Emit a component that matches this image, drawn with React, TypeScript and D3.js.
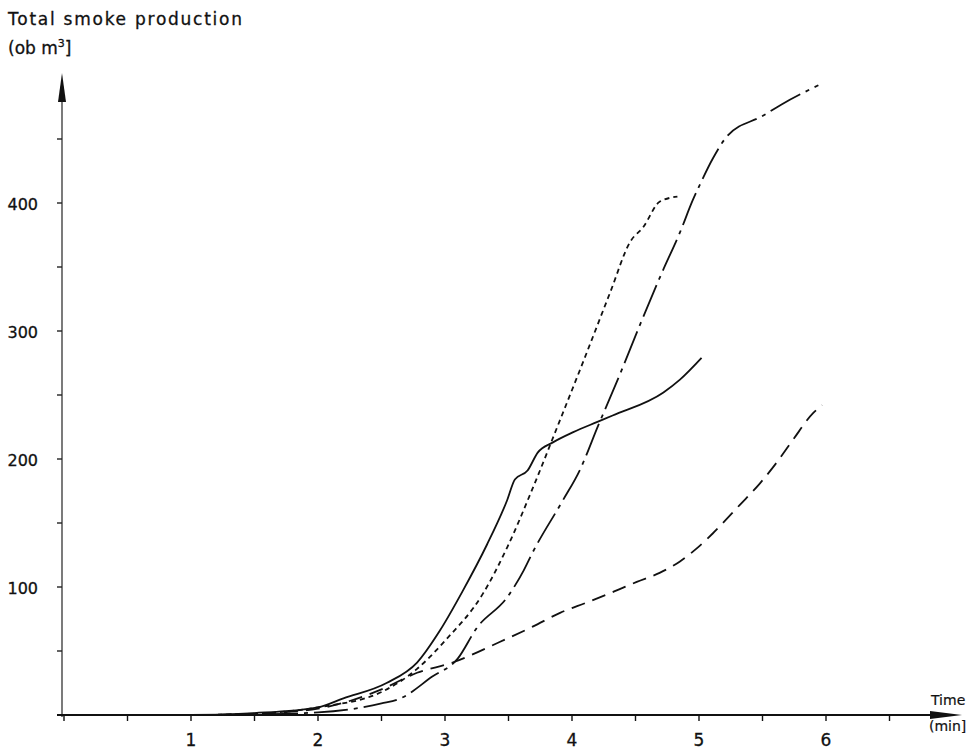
import React from "react";
import * as d3 from "d3";

// ---- data ----
const solidT = [0, 1, 1.5, 2.0, 2.2, 2.54, 2.78, 2.96, 3.14, 3.33, 3.49, 3.55, 3.65, 3.73, 3.85, 4.01, 4.2, 4.32, 4.72, 4.85, 5.02];
const solidV = [0, 0, 1.5, 6, 13, 25, 41, 66, 97, 133, 168, 184, 191, 205, 213, 221, 229, 234, 252, 262, 279];

const dottedT = [0, 1, 1.5, 2.0, 2.5, 2.78, 3.0, 3.3, 3.49, 3.69, 3.9, 4.1, 4.3, 4.46, 4.56, 4.69, 4.83];
const dottedV = [0, 0, 1, 6, 18, 36, 58, 95, 131, 177, 229, 279, 330, 370, 381, 401, 405];

const dashDotT = [0, 1, 1.5, 2.0, 2.5, 2.65, 2.9, 3.1, 3.25, 3.49, 3.62, 3.69, 3.93, 4.06, 4.21, 4.36, 4.54, 4.71, 4.85, 4.95, 5.01, 5.11, 5.22, 5.5, 5.65, 5.94];
const dashDotV = [0, 0, 0.5, 2, 9, 13, 30, 44, 68, 92, 113, 127, 168, 191, 227, 262, 306, 346, 377, 402, 415, 435, 452, 468, 477, 492];

const dashedT = [0, 1, 1.5, 2.0, 2.5, 2.78, 3.06, 3.43, 3.69, 3.91, 4.12, 4.32, 4.51, 4.69, 4.85, 4.98, 5.11, 5.32, 5.48, 5.61, 5.74, 5.9, 5.97];
const dashedV = [0, 0, 1, 5, 20, 33, 41, 57, 69, 80, 88, 96, 104, 111, 120, 130, 142, 164, 181, 197, 215, 236, 242];

const xTickLabels = [1, 2, 3, 4, 5, 6];
const yTickLabels = [100, 200, 300, 400];
const xMinorTicks = [0, 0.5, 1, 1.5, 2, 2.5, 3, 3.5, 4, 4.5, 5, 5.5, 6, 6.5];
const yMinorTicks = [50, 100, 150, 200, 250, 300, 350, 400, 450];

const series = [
  { t: solidT, v: solidV, dash: "none" },
  { t: dottedT, v: dottedV, dash: "5,4" },
  { t: dashDotT, v: dashDotV, dash: "34,6,4,6" },
  { t: dashedT, v: dashedV, dash: "14,8" },
];

const W = 971;
const H = 749;
const FONT = "'DejaVu Sans', sans-serif";

export default function App() {
  const x = d3.scaleLinear().domain([0, 6]).range([64, 826]);
  const y = d3.scaleLinear().domain([0, 400]).range([715, 203]);
  const x0 = x(0) - 2;
  const y0 = y(0);

  const line = d3
    .line<[number, number]>()
    .x((d) => x(d[0]))
    .y((d) => y(d[1]))
    .curve(d3.curveMonotoneX);

  return (
    <svg
      width={W}
      height={H}
      viewBox={`0 0 ${W} ${H}`}
      style={{ position: "absolute", left: 0, top: 0, background: "#fff" }}
    >
      <rect x={0} y={0} width={W} height={H} fill="#fff" />

      {/* titles */}
      <text x={8} y={25} fontFamily={FONT} fontSize={17} textLength={234} lengthAdjust="spacing" fill="#111" stroke="#111" strokeWidth={0.3}>
        Total smoke production
      </text>
      <text x={8} y={54} fontFamily={FONT} fontSize={17} fill="#111" stroke="#111" strokeWidth={0.3}>
        (ob m<tspan fontSize={11} dy={-7}>3</tspan>
        <tspan dy={7}>]</tspan>
      </text>

      {/* y axis */}
      <line x1={x0} y1={y0 + 2} x2={x0} y2={98} stroke="#222" strokeWidth={1.2} />
      <path d={`M${x0},73 L${x0 - 4},102 L${x0 + 4},102 Z`} fill="#111" />
      {yMinorTicks.map((v) => (
        <line key={"yt" + v} x1={x0 - 5} x2={x0} y1={y(v)} y2={y(v)} stroke="#222" strokeWidth={1.4} />
      ))}
      {yTickLabels.map((v) => (
        <text key={"yl" + v} x={38} y={y(v) + 2} textAnchor="end" fontFamily={FONT} fontSize={16} fill="#111" stroke="#111" strokeWidth={0.3} dominantBaseline="middle">
          {v}
        </text>
      ))}

      {/* x axis */}
      <line x1={57} y1={y0} x2={935} y2={y0} stroke="#111" strokeWidth={2.2} />
      <path d={`M962,${y0} L930,${y0 - 4} L930,${y0 + 4} Z`} fill="#111" />
      {xMinorTicks.map((t) => (
        <line key={"xt" + t} x1={x(t)} x2={x(t)} y1={y0} y2={y0 + 6} stroke="#111" strokeWidth={1.4} />
      ))}
      {xTickLabels.map((t) => (
        <text key={"xl" + t} x={x(t)} y={746} textAnchor="middle" fontFamily={FONT} fontSize={17} fill="#111" stroke="#111" strokeWidth={0.3}>
          {t}
        </text>
      ))}
      <text x={931} y={705} fontFamily={FONT} fontSize={14} fill="#111" stroke="#111" strokeWidth={0.2}>Time</text>
      <text x={929} y={731} fontFamily={FONT} fontSize={14} fill="#111" stroke="#111" strokeWidth={0.2}>(min]</text>

      {/* curves */}
      {series.map((s, i) => (
        <path
          key={"s" + i}
          d={line(s.t.map((t, k) => [t, s.v[k]] as [number, number])) || ""}
          fill="none"
          stroke="#111"
          strokeWidth={1.8}
          strokeDasharray={s.dash}
        />
      ))}
    </svg>
  );
}
